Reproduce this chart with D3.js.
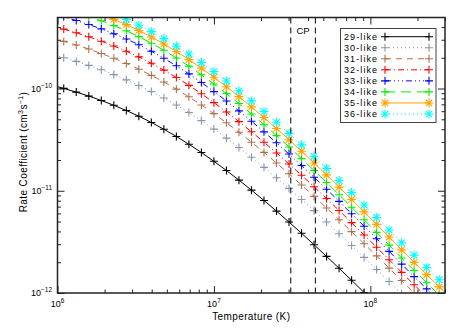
<!DOCTYPE html>
<html>
<head>
<meta charset="utf-8">
<script src="https://cdn.jsdelivr.net/npm/d3@7"></script>
<style>
    body { margin: 0; background: #fff; }
    svg  { display: block; }
    text { font-family: "Liberation Sans", Arial, sans-serif; fill: #000; }
</style>
</head>
<body>
<script>
// -------------------------------------------------------------------------- //
//                                  DATA                                      //
// -------------------------------------------------------------------------- //

// temperature grid (K)
var temperatures = [9.12e5, 1.096e6, 1.318e6, 1.585e6, 1.905e6, 2.291e6, 2.754e6, 3.311e6,
                    3.981e6, 4.786e6, 5.754e6, 6.918e6, 8.318e6, 1.0e7, 1.202e7, 1.445e7,
                    1.738e7, 2.089e7, 2.512e7, 3.020e7, 3.631e7, 4.365e7, 5.248e7, 6.310e7,
                    7.586e7, 9.120e7, 1.096e8, 1.318e8, 1.585e8, 1.905e8, 2.291e8, 2.754e8, 3.311e8];

// log10 of rate coefficient (cm^3 s^-1)
var logRate29 = [-9.965, -9.999, -10.035, -10.074, -10.117, -10.164, -10.215, -10.271,
                 -10.332, -10.398, -10.469, -10.545, -10.626, -10.712, -10.802, -10.896,
                 -10.994, -11.095, -11.199, -11.306, -11.416, -11.528, -11.642, -11.758,
                 -11.876, -11.995, -12.115, -12.236, -12.358, -12.48, -12.60, -12.72, -12.84];
var logRate30 = [-9.665, -9.699, -9.735, -9.774, -9.817, -9.864, -9.915, -9.971,
                 -10.029, -10.093, -10.161, -10.235, -10.314, -10.397, -10.485, -10.577,
                 -10.672, -10.771, -10.873, -10.977, -11.085, -11.194, -11.306, -11.420,
                 -11.535, -11.652, -11.770, -11.888, -12.008, -12.13, -12.25, -12.37, -12.49];
var logRate31 = [-9.505, -9.539, -9.575, -9.614, -9.657, -9.704, -9.755, -9.811,
                 -9.871, -9.936, -10.006, -10.081, -10.161, -10.246, -10.335, -10.428,
                 -10.525, -10.625, -10.728, -10.834, -10.944, -11.055, -11.168, -11.283,
                 -11.400, -11.518, -11.637, -11.757, -11.878, -12.00, -12.12, -12.24, -12.36];
var logRate32 = [-9.385, -9.419, -9.455, -9.494, -9.537, -9.584, -9.635, -9.691,
                 -9.753, -9.820, -9.892, -9.969, -10.051, -10.138, -10.229, -10.324,
                 -10.423, -10.525, -10.630, -10.738, -10.848, -10.961, -11.076, -11.193,
                 -11.312, -11.432, -11.553, -11.675, -11.798, -11.92, -12.04, -12.16, -12.28];
var logRate33 = [-9.265, -9.299, -9.335, -9.374, -9.417, -9.464, -9.515, -9.572,
                 -9.636, -9.704, -9.778, -9.857, -9.941, -10.030, -10.122, -10.219,
                 -10.320, -10.424, -10.531, -10.641, -10.753, -10.868, -10.985, -11.104,
                 -11.225, -11.347, -11.469, -11.593, -11.718, -11.84, -11.96, -12.08, -12.20];
var logRate34 = [-9.185, -9.219, -9.255, -9.294, -9.337, -9.384, -9.435, -9.492,
                 -9.557, -9.626, -9.701, -9.781, -9.866, -9.956, -10.049, -10.147,
                 -10.249, -10.354, -10.461, -10.572, -10.686, -10.802, -10.919, -11.039,
                 -11.161, -11.284, -11.407, -11.532, -11.658, -11.78, -11.90, -12.02, -12.14];
var logRate35 = [-9.125, -9.159, -9.195, -9.234, -9.277, -9.324, -9.375, -9.432,
                 -9.496, -9.564, -9.638, -9.717, -9.801, -9.890, -9.982, -10.079,
                 -10.180, -10.284, -10.391, -10.501, -10.613, -10.728, -10.845, -10.964,
                 -11.085, -11.207, -11.329, -11.453, -11.578, -11.70, -11.82, -11.94, -12.06];
var logRate36 = [-9.075, -9.109, -9.145, -9.184, -9.227, -9.274, -9.325, -9.381,
                 -9.444, -9.512, -9.585, -9.663, -9.746, -9.834, -9.926, -10.022,
                 -10.121, -10.224, -10.330, -10.439, -10.551, -10.665, -10.781, -10.899,
                 -11.018, -11.139, -11.261, -11.384, -11.508, -11.63, -11.75, -11.87, -11.99];

var seriesNames = ["29-like", "30-like", "31-like", "32-like", "33-like", "34-like", "35-like", "36-like"];
var seriesRates = [logRate29, logRate30, logRate31, logRate32, logRate33, logRate34, logRate35, logRate36];

// critical point temperatures (K)
var cpTemps = [3.1e7, 4.45e7];

// axis ticks
var xMajor = [1e6, 1e7, 1e8];
var xMinor = [2e6, 3e6, 4e6, 5e6, 6e6, 7e6, 8e6, 9e6,
              2e7, 3e7, 4e7, 5e7, 6e7, 7e7, 8e7, 9e7, 2e8, 3e8];
var xExpLabels = ["6", "7", "8"];
var yMajor = [1e-12, 1e-11, 1e-10];
var yMinor = [2e-12, 3e-12, 4e-12, 5e-12, 6e-12, 7e-12, 8e-12, 9e-12,
              2e-11, 3e-11, 4e-11, 5e-11, 6e-11, 7e-11, 8e-11, 9e-11,
              2e-10, 3e-10, 4e-10];
var yExpLabels = ["\u221212", "\u221211", "\u221210"];

// -------------------------------------------------------------------------- //
//                                 STYLES                                     //
// -------------------------------------------------------------------------- //

var seriesStyle = [
    { "color": "#000000", "dash": null,                      "marker": "plus" },
    { "color": "#8797ad", "dash": "1,3",                     "marker": "plus" },
    { "color": "#b0704e", "dash": "6,5",                     "marker": "plus" },
    { "color": "#ff0000", "dash": "6,3,1,3",                 "marker": "plus" },
    { "color": "#0000ff", "dash": "6,3,1,3,1,3,1,3",         "marker": "plus" },
    { "color": "#00ee00", "dash": "10,6",                    "marker": "plus" },
    { "color": "#ffa500", "dash": null,                      "marker": "star" },
    { "color": "#00ffff", "dash": "1,3",                     "marker": "star" }
];

function rateChart()
{
    var series = seriesNames.map(function (name, i) {
        return {
            "name":   name,
            "style":  seriesStyle[i],
            "points": temperatures.map(function (t, j) {
                return { "t": t, "v": Math.pow(10, seriesRates[i][j]) };
            })
        };
    });

    // ---------------------------------------------------------------------- //
    //                               LAYOUT                                   //
    // ---------------------------------------------------------------------- //

    var W = 463, H = 331;
    var pLeft = 57.5, pRight = 445, pTop = 17.5, pBottom = 293;

    var svg = d3.select("body")
        .append("svg")
        .attr("width", W)
        .attr("height", H);

    var x = d3.scaleLog().domain([1e6, 3e8]).range([pLeft, pRight]);
    var y = d3.scaleLog().domain([1e-12, 4.95e-10]).range([pBottom, pTop]);

    svg.append("defs")
        .append("clipPath")
        .attr("id", "plotClip")
        .append("rect")
        .attr("x", pLeft)
        .attr("y", pTop)
        .attr("width", pRight - pLeft)
        .attr("height", pBottom - pTop);

    // ---------------------------------------------------------------------- //
    //                               MARKERS                                  //
    // ---------------------------------------------------------------------- //

    function markerPath (type)
    {
        var s = 4;
        if (type === "plus")
            return "M" + (-s) + ",0H" + s + "M0," + (-s) + "V" + s;
        var d = 3.2, r = 4.5;
        return "M" + (-r) + ",0H" + r + "M0," + (-r) + "V" + r +
               "M" + (-d) + "," + (-d) + "L" + d + "," + d +
               "M" + (-d) + "," + d + "L" + d + "," + (-d);
    }

    // ---------------------------------------------------------------------- //
    //                               SERIES                                   //
    // ---------------------------------------------------------------------- //

    var lineFunction = d3.line()
        .x(function (d) { return x(d.t); })
        .y(function (d) { return y(d.v); });

    var plot = svg.append("g").attr("clip-path", "url(#plotClip)");

    series.forEach(function (s) {
        plot.append("path")
            .attr("d", lineFunction(s.points))
            .attr("fill", "none")
            .attr("stroke", s.style.color)
            .attr("stroke-width", 1)
            .attr("stroke-dasharray", s.style.dash);

        plot.selectAll(null)
            .data(s.points)
            .enter()
            .append("path")
            .attr("transform", function (d) { return "translate(" + x(d.t) + "," + y(d.v) + ")"; })
            .attr("d", markerPath(s.style.marker))
            .attr("fill", "none")
            .attr("stroke", s.style.color)
            .attr("stroke-width", 1.1);
    });

    // CP lines
    plot.selectAll(null)
        .data(cpTemps)
        .enter()
        .append("line")
        .attr("x1", function (d) { return x(d); })
        .attr("x2", function (d) { return x(d); })
        .attr("y1", pTop)
        .attr("y2", pBottom)
        .attr("stroke", "#000")
        .attr("stroke-width", 1)
        .attr("stroke-dasharray", "6,4");

    svg.append("text")
        .attr("x", (x(cpTemps[0]) + x(cpTemps[1])) / 2)
        .attr("y", 34)
        .attr("text-anchor", "middle")
        .style("font-size", "9.5px")
        .text("CP");

    // ---------------------------------------------------------------------- //
    //                                AXES                                    //
    // ---------------------------------------------------------------------- //

    function drawTicks (axis, transform, values, size)
    {
        var g = svg.append("g")
            .attr("transform", transform)
            .call(axis.tickValues(values).tickSize(-size).tickFormat(""));
        g.select(".domain").remove();
        g.selectAll(".tick line").attr("stroke", "#222").attr("stroke-width", 1);
    }

    drawTicks(d3.axisBottom(x), "translate(0," + pBottom + ")", xMajor, 7);
    drawTicks(d3.axisBottom(x), "translate(0," + pBottom + ")", xMinor, 3.5);
    drawTicks(d3.axisTop(x),    "translate(0," + pTop + ")",    xMajor, 7);
    drawTicks(d3.axisTop(x),    "translate(0," + pTop + ")",    xMinor, 3.5);
    drawTicks(d3.axisLeft(y),   "translate(" + pLeft + ",0)",   yMajor, 7);
    drawTicks(d3.axisLeft(y),   "translate(" + pLeft + ",0)",   yMinor, 3.5);
    drawTicks(d3.axisRight(y),  "translate(" + pRight + ",0)",  yMajor, 7);
    drawTicks(d3.axisRight(y),  "translate(" + pRight + ",0)",  yMinor, 3.5);

    // tick labels with superscript exponents
    var xLab = svg.selectAll(null)
        .data(xMajor)
        .enter()
        .append("text")
        .attr("x", function (d) { return x(d); })
        .attr("y", 307)
        .attr("text-anchor", "middle")
        .style("font-size", "9px");
    xLab.append("tspan").text("10");
    xLab.append("tspan")
        .attr("dy", -4)
        .style("font-size", "6.5px")
        .text(function (d, i) { return xExpLabels[i]; });

    var yLab = svg.selectAll(null)
        .data(yMajor)
        .enter()
        .append("text")
        .attr("x", 52)
        .attr("y", function (d) { return y(d) + 3; })
        .attr("text-anchor", "end")
        .style("font-size", "9px");
    yLab.append("tspan").text("10");
    yLab.append("tspan")
        .attr("dy", -4)
        .style("font-size", "6.5px")
        .text(function (d, i) { return yExpLabels[i]; });

    // titles
    svg.append("text")
        .attr("x", (pLeft + pRight) / 2)
        .attr("y", 320)
        .attr("text-anchor", "middle")
        .style("font-size", "10px")
        .style("letter-spacing", "0.4px")
        .text("Temperature (K)");

    var yTitle = svg.append("text")
        .attr("transform", "translate(27,152) rotate(-90)")
        .attr("text-anchor", "middle")
        .style("font-size", "10px")
        .style("letter-spacing", "0.4px");
    yTitle.append("tspan").text("Rate Coefficient (cm");
    yTitle.append("tspan").attr("dy", -4).style("font-size", "7px").text("3");
    yTitle.append("tspan").attr("dy", 4).text("s");
    yTitle.append("tspan").attr("dy", -4).style("font-size", "7px").text("\u22121");
    yTitle.append("tspan").attr("dy", 4).text(")");

    // frame
    svg.append("rect")
        .attr("x", pLeft)
        .attr("y", pTop)
        .attr("width", pRight - pLeft)
        .attr("height", pBottom - pTop)
        .attr("fill", "none")
        .attr("stroke", "#222")
        .attr("stroke-width", 1.5);

    // ---------------------------------------------------------------------- //
    //                               LEGEND                                   //
    // ---------------------------------------------------------------------- //

    var legend = svg.append("g");

    legend.append("rect")
        .attr("x", 340.5)
        .attr("y", 28.5)
        .attr("width", 95.5)
        .attr("height", 94)
        .attr("fill", "#fff")
        .attr("stroke", "#444")
        .attr("stroke-width", 1);

    var rows = legend.selectAll(null)
        .data(series)
        .enter()
        .append("g")
        .attr("transform", function (d, i) { return "translate(0," + (36.7 + i * 11.04) + ")"; });

    rows.append("text")
        .attr("x", 344)
        .attr("y", 3.3)
        .style("font-size", "9px")
        .style("letter-spacing", "1.1px")
        .text(function (d) { return d.name; });

    rows.append("line")
        .attr("x1", 385)
        .attr("x2", 429)
        .attr("stroke", function (d) { return d.style.color; })
        .attr("stroke-width", 1)
        .attr("stroke-dasharray", function (d) { return d.style.dash; });

    [385, 429].forEach(function (mx) {
        rows.append("path")
            .attr("transform", "translate(" + mx + ",0)")
            .attr("d", function (d) { return markerPath(d.style.marker); })
            .attr("fill", "none")
            .attr("stroke", function (d) { return d.style.color; })
            .attr("stroke-width", 1.1);
    });
}

rateChart();
</script>
</body>
</html>
